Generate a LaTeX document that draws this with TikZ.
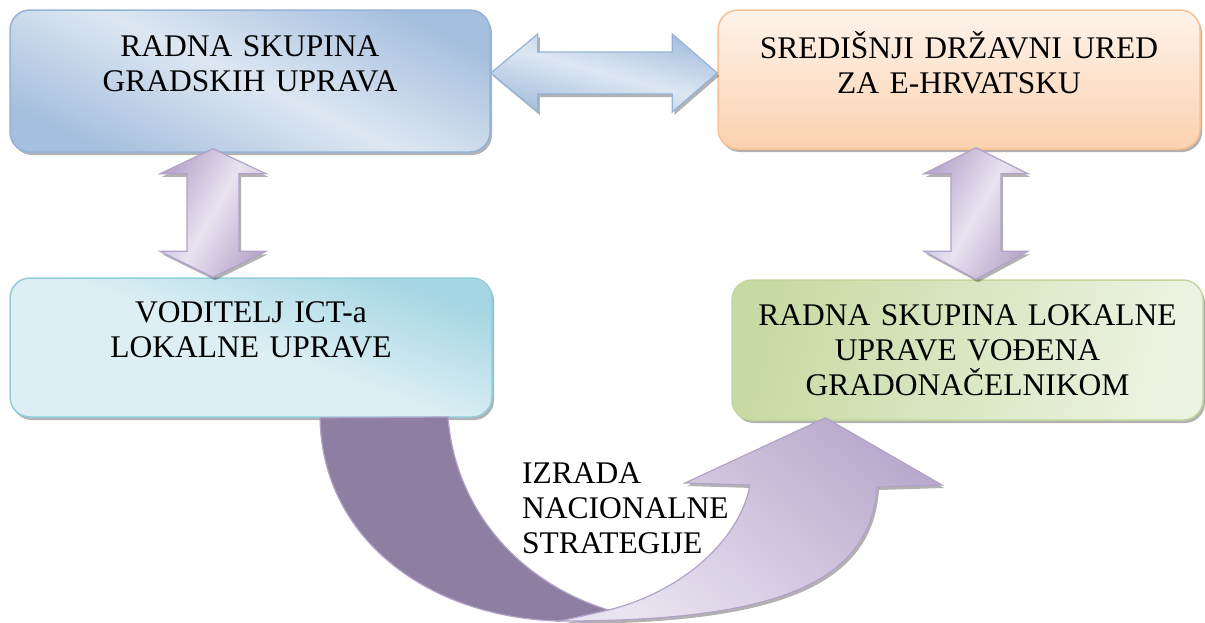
\documentclass[tikz,border=0pt]{standalone}
\usepackage{fontspec}
\setmainfont{Liberation Serif}
\usetikzlibrary{calc,shadows}
\definecolor{bluedge}{HTML}{95B3D7}
\definecolor{bluedark}{HTML}{A6BFDE}
\definecolor{bluelight}{HTML}{DDE7F2}
\definecolor{orgedge}{HTML}{FAC090}
\definecolor{orgdark}{HTML}{FBD2B0}
\definecolor{orglight}{HTML}{FEF3EA}
\definecolor{tealedge}{HTML}{92CDDC}
\definecolor{tealdark}{HTML}{A5D6E3}
\definecolor{teallight}{HTML}{DDEFF4}
\definecolor{grnedge}{HTML}{C3D69B}
\definecolor{grndark}{HTML}{C8DAA4}
\definecolor{grnlight}{HTML}{EDF3E2}
\definecolor{purpedge}{HTML}{B3A2C7}
\definecolor{purpdark}{HTML}{8E7FA2}
\definecolor{purpmid}{HTML}{B9AACD}
\definecolor{purplight}{HTML}{E8E3F0}
\begin{document}
\begin{tikzpicture}[x=1pt,y=-1pt]
	\tikzstyle{every node}+=[inner sep=0pt,font=\fontsize{31.5}{35}\selectfont]
	\tikzstyle{shadowed}=[drop shadow={shadow xshift=2pt,shadow yshift=-3pt,fill=black,opacity=0.3}]
	\tikzstyle{box}=[shadowed,rounded corners=20pt,line width=1.5pt,align=center,text width=460pt]
	\tikzstyle{purparrow}=[shadowed,line width=1.2pt,draw=purpedge,left color=purpmid,right color=purpmid,middle color=purplight,shading angle=60]
	\useasboundingbox (0,0) rectangle (1205,622);
	\node [box,draw=bluedge,top color=bluedark,bottom color=bluedark,middle color=bluelight,shading angle=-25,minimum width=480pt,minimum height=142pt] (gradske) at (250,81) {RADNA SKUPINA\\GRADSKIH UPRAVA\\\mbox{}};
	\node [box,draw=orgedge,top color=orglight,bottom color=orgdark,minimum width=482pt,minimum height=139pt] (ured) at (959,79.5) {SREDIŠNJI DRŽAVNI URED\\ZA E-HRVATSKU\\\mbox{}};
	\node [box,draw=tealedge,top color=tealdark,bottom color=teallight,middle color=teallight,shading angle=-20,minimum width=482pt,minimum height=139pt] (voditelj) at (251,347.5) {VODITELJ ICT-a\\LOKALNE UPRAVE\\\mbox{}};
	\node [box,draw=grnedge,left color=grndark,right color=grnlight,shading angle=75,minimum width=471pt,minimum height=140pt] (lokalna) at (967.5,350) {RADNA SKUPINA LOKALNE\\UPRAVE VOĐENA\\GRADONAČELNIKOM};
	\coordinate (ha) at ($(gradske.east)+(0,-8)$);
	\coordinate (hb) at (ha -| ured.west);
	\draw [shadowed,line width=1.2pt,draw=bluedge,top color=bluedark,bottom color=bluedark,middle color=bluelight,shading angle=-15] (ha) -- ++(47,-39) -- ++(0,18) -- ($(hb)+(-45,-21)$) -- ++(0,-18) -- (hb) -- ++(-45,39) -- ++(0,-18) -- ($(ha)+(47,21)$) -- ++(0,18) -- cycle;
	\coordinate (va) at ($(gradske.south)+(-37,-4)$);
	\coordinate (vb) at (va |- voditelj.north);
	\draw [purparrow] (va) -- ++(53,25) -- ++(-27,0) -- ($(vb)+(26,-26)$) -- ++(27,0) -- (vb) -- ++(-53,-26) -- ++(27,0) -- ($(va)+(-26,25)$) -- ++(-27,0) -- cycle;
	\coordinate (vc) at ($(ured.south)+(17,-2)$);
	\coordinate (vd) at (vc |- lokalna.north);
	\draw [purparrow] (vc) -- ++(52,26) -- ++(-27,0) -- ($(vd)+(25,-28)$) -- ++(27,0) -- (vd) -- ++(-52,-28) -- ++(27,0) -- ($(vc)+(-25,26)$) -- ++(-27,0) -- cycle;
	\coordinate (ca) at ($(voditelj.south)+(69,0)$);
	\coordinate (cb) at ($(lokalna.south)+(-142,-3)$);
	\draw [line width=1.2pt,draw=purpedge,fill=purpdark] (ca) -- (448,417) .. controls (455,510) and (520,585) .. (615,612) -- (560,621) .. controls (430,618) and (322,540) .. (ca) -- cycle;
	\draw [shadowed,line width=1.2pt,draw=purpedge,top color=purpmid,bottom color=purplight,shading angle=-40] (600,612) .. controls (680,595) and (740,540) .. (750,485) -- (685,483) -- (cb) -- (942,485) -- (877,487) .. controls (870,590) and (760,621) .. (560,621) -- cycle;
	\node [anchor=north west,align=left] (izrada) at (522,462) {IZRADA\\NACIONALNE\\STRATEGIJE};
\end{tikzpicture}
\end{document}
